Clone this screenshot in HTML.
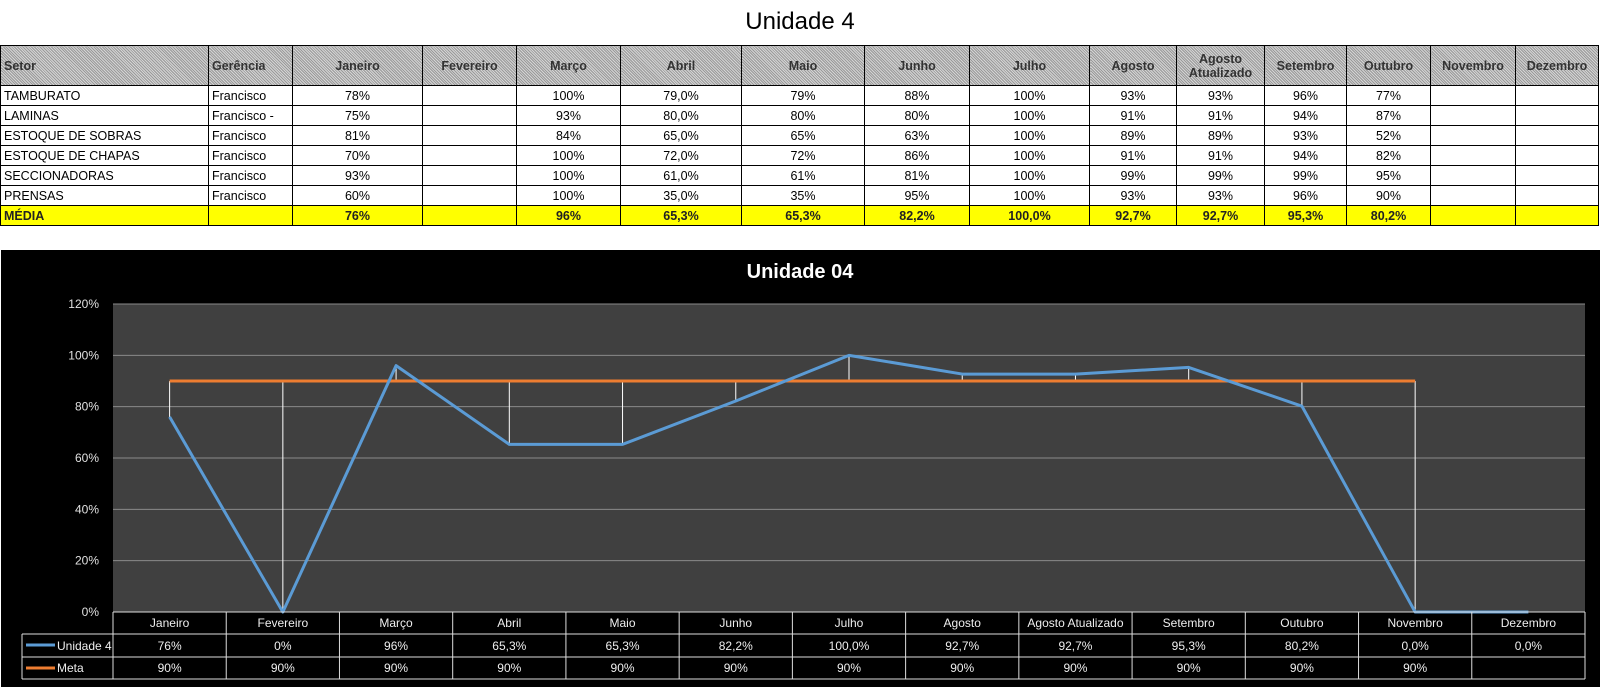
<!DOCTYPE html>
<html><head><meta charset="utf-8">
<style>
body{margin:0;width:1600px;height:687px;background:#fff;position:relative;overflow:hidden;font-family:"Liberation Sans",sans-serif;}
#title{position:absolute;left:0;width:1600px;top:8px;text-align:center;font-size:24px;color:#000;}
table.t{position:absolute;left:0;top:45px;border-collapse:collapse;table-layout:fixed;font-size:12.5px;}
table.t td{border:1.5px solid #000;padding:0 3px;height:19px;white-space:nowrap;overflow:hidden;}
table.t tr.h td{height:39px;background:repeating-linear-gradient(45deg,#9a9a9a 0 1px,#d4d4d4 1px 2px);font-weight:bold;color:#333;text-align:center;line-height:14px;white-space:normal;}
table.t tr.h td.l{text-align:left;}
table.t td.c{text-align:center;}
table.t tr.m td{background:#ffff00;font-weight:bold;color:#222;}
#chart{position:absolute;left:1px;top:250px;width:1599px;height:437px;background:#000;}
</style></head><body>
<div id="title">Unidade 4</div>
<table class="t" id="tbl">
<colgroup>
<col style="width:208px"><col style="width:84px"><col style="width:130px"><col style="width:94px"><col style="width:104px"><col style="width:121px"><col style="width:123px"><col style="width:105px"><col style="width:120px"><col style="width:87px"><col style="width:88px"><col style="width:82px"><col style="width:84px"><col style="width:85px"><col style="width:83px">
</colgroup>
<tr class="h"><td class="l">Setor</td><td class="l">Gerência</td><td>Janeiro</td><td>Fevereiro</td><td>Março</td><td>Abril</td><td>Maio</td><td>Junho</td><td>Julho</td><td>Agosto</td><td>Agosto<br>Atualizado</td><td>Setembro</td><td>Outubro</td><td>Novembro</td><td>Dezembro</td></tr>
<tr><td>TAMBURATO</td><td>Francisco</td><td class="c">78%</td><td></td><td class="c">100%</td><td class="c">79,0%</td><td class="c">79%</td><td class="c">88%</td><td class="c">100%</td><td class="c">93%</td><td class="c">93%</td><td class="c">96%</td><td class="c">77%</td><td></td><td></td></tr>
<tr><td>LAMINAS</td><td>Francisco -</td><td class="c">75%</td><td></td><td class="c">93%</td><td class="c">80,0%</td><td class="c">80%</td><td class="c">80%</td><td class="c">100%</td><td class="c">91%</td><td class="c">91%</td><td class="c">94%</td><td class="c">87%</td><td></td><td></td></tr>
<tr><td>ESTOQUE DE SOBRAS</td><td>Francisco</td><td class="c">81%</td><td></td><td class="c">84%</td><td class="c">65,0%</td><td class="c">65%</td><td class="c">63%</td><td class="c">100%</td><td class="c">89%</td><td class="c">89%</td><td class="c">93%</td><td class="c">52%</td><td></td><td></td></tr>
<tr><td>ESTOQUE DE CHAPAS</td><td>Francisco</td><td class="c">70%</td><td></td><td class="c">100%</td><td class="c">72,0%</td><td class="c">72%</td><td class="c">86%</td><td class="c">100%</td><td class="c">91%</td><td class="c">91%</td><td class="c">94%</td><td class="c">82%</td><td></td><td></td></tr>
<tr><td>SECCIONADORAS</td><td>Francisco</td><td class="c">93%</td><td></td><td class="c">100%</td><td class="c">61,0%</td><td class="c">61%</td><td class="c">81%</td><td class="c">100%</td><td class="c">99%</td><td class="c">99%</td><td class="c">99%</td><td class="c">95%</td><td></td><td></td></tr>
<tr><td>PRENSAS</td><td>Francisco</td><td class="c">60%</td><td></td><td class="c">100%</td><td class="c">35,0%</td><td class="c">35%</td><td class="c">95%</td><td class="c">100%</td><td class="c">93%</td><td class="c">93%</td><td class="c">96%</td><td class="c">90%</td><td></td><td></td></tr>
<tr class="m"><td>MÉDIA</td><td></td><td class="c">76%</td><td></td><td class="c">96%</td><td class="c">65,3%</td><td class="c">65,3%</td><td class="c">82,2%</td><td class="c">100,0%</td><td class="c">92,7%</td><td class="c">92,7%</td><td class="c">95,3%</td><td class="c">80,2%</td><td></td><td></td></tr>
</table>
<div id="chart">
<svg id="svg" width="1599" height="437" xmlns="http://www.w3.org/2000/svg" font-family="Liberation Sans, sans-serif"></svg>
</div>
<script>
const categories=["Janeiro","Fevereiro","Março","Abril","Maio","Junho","Julho","Agosto","Agosto Atualizado","Setembro","Outubro","Novembro","Dezembro"];
const unidadeValues=[76,0,96,65.3,65.3,82.2,100,92.7,92.7,95.3,80.2,0,0];
const unidadeLabels=["76%","0%","96%","65,3%","65,3%","82,2%","100,0%","92,7%","92,7%","95,3%","80,2%","0,0%","0,0%"];
const metaValues=[90,90,90,90,90,90,90,90,90,90,90,90,null];
const metaLabels=["90%","90%","90%","90%","90%","90%","90%","90%","90%","90%","90%","90%",""];
const yTicks=[0,20,40,60,80,100,120];
const yTickLabels=["0%","20%","40%","60%","80%","100%","120%"];

const svg=document.getElementById('svg');
const NS="http://www.w3.org/2000/svg";
const L=112,R=1584,T=54,B=362;
const cw=(R-L)/categories.length;
const xc=i=>L+cw*(i+0.5);
const y=v=>B-(v/120)*(B-T);
function mk(tag,attrs,text){const e=document.createElementNS(NS,tag);for(const k in attrs)e.setAttribute(k,attrs[k]);if(text!==undefined)e.textContent=text;svg.appendChild(e);return e;}

let e=mk('text',{x:799,y:28,'text-anchor':'middle',fill:'#fff','font-size':20,'font-weight':'bold'},'Unidade 04');


e=mk('rect',{x:L,y:T,width:R-L,height:B-T,fill:'#404040'});


yTicks.forEach((t,i)=>{
  const g=mk('line',{x1:L,x2:R,y1:y(t),y2:y(t),stroke:'#8a8a8a','stroke-width':1});
  
  
  const lb=mk('text',{x:98,y:y(t)+4,'text-anchor':'end',fill:'#e0e0e0','font-size':12},yTickLabels[i]);
  
  
});
categories.forEach((c,i)=>{
  if(metaValues[i]==null||unidadeValues[i]==null)return;
  const a=Math.min(metaValues[i],unidadeValues[i]),b=Math.max(metaValues[i],unidadeValues[i]);
  const d=mk('line',{x1:xc(i),x2:xc(i),y1:y(a),y2:y(b),stroke:'#fff','stroke-width':1});
  
  
});
const mpts=metaValues.map((v,i)=>v==null?null:xc(i)+','+y(v)).filter(Boolean).join(' ');
e=mk('polyline',{points:mpts,fill:'none',stroke:'#ed7d31','stroke-width':3});


const upts=unidadeValues.map((v,i)=>xc(i)+','+y(v)).join(' ');
e=mk('polyline',{points:upts,fill:'none',stroke:'#5b9bd5','stroke-width':3,'stroke-linejoin':'round'});


const r0=B,rh=[22,23,22];
const LL=21;
const rows=[r0,r0+rh[0],r0+rh[0]+rh[1],r0+rh[0]+rh[1]+rh[2]];
mk('line',{x1:L,x2:R,y1:rows[0],y2:rows[0],stroke:'#ddd'});
for(let k=1;k<4;k++)mk('line',{x1:LL,x2:R,y1:rows[k],y2:rows[k],stroke:'#ddd'});
mk('line',{x1:LL,x2:LL,y1:rows[1],y2:rows[3],stroke:'#ddd'});
for(let i=0;i<=categories.length;i++)mk('line',{x1:L+cw*i,x2:L+cw*i,y1:rows[0],y2:rows[3],stroke:'#ddd'});
categories.forEach((c,i)=>{
  let t=mk('text',{x:xc(i),y:rows[0]+15,'text-anchor':'middle',fill:'#eee','font-size':12},c);
  
  
  t=mk('text',{x:xc(i),y:rows[1]+16,'text-anchor':'middle',fill:'#eee','font-size':12},unidadeLabels[i]);
  
  
  t=mk('text',{x:xc(i),y:rows[2]+15,'text-anchor':'middle',fill:'#eee','font-size':12},metaLabels[i]);
  
  
});
e=mk('line',{x1:LL+4,x2:LL+33,y1:rows[1]+11,y2:rows[1]+11,stroke:'#5b9bd5','stroke-width':3});


e=mk('text',{x:LL+35,y:rows[1]+16,fill:'#eee','font-size':12},'Unidade 4');


e=mk('line',{x1:LL+4,x2:LL+33,y1:rows[2]+11,y2:rows[2]+11,stroke:'#ed7d31','stroke-width':3});


e=mk('text',{x:LL+35,y:rows[2]+15,fill:'#eee','font-size':12},'Meta');


</script>
</body></html>
